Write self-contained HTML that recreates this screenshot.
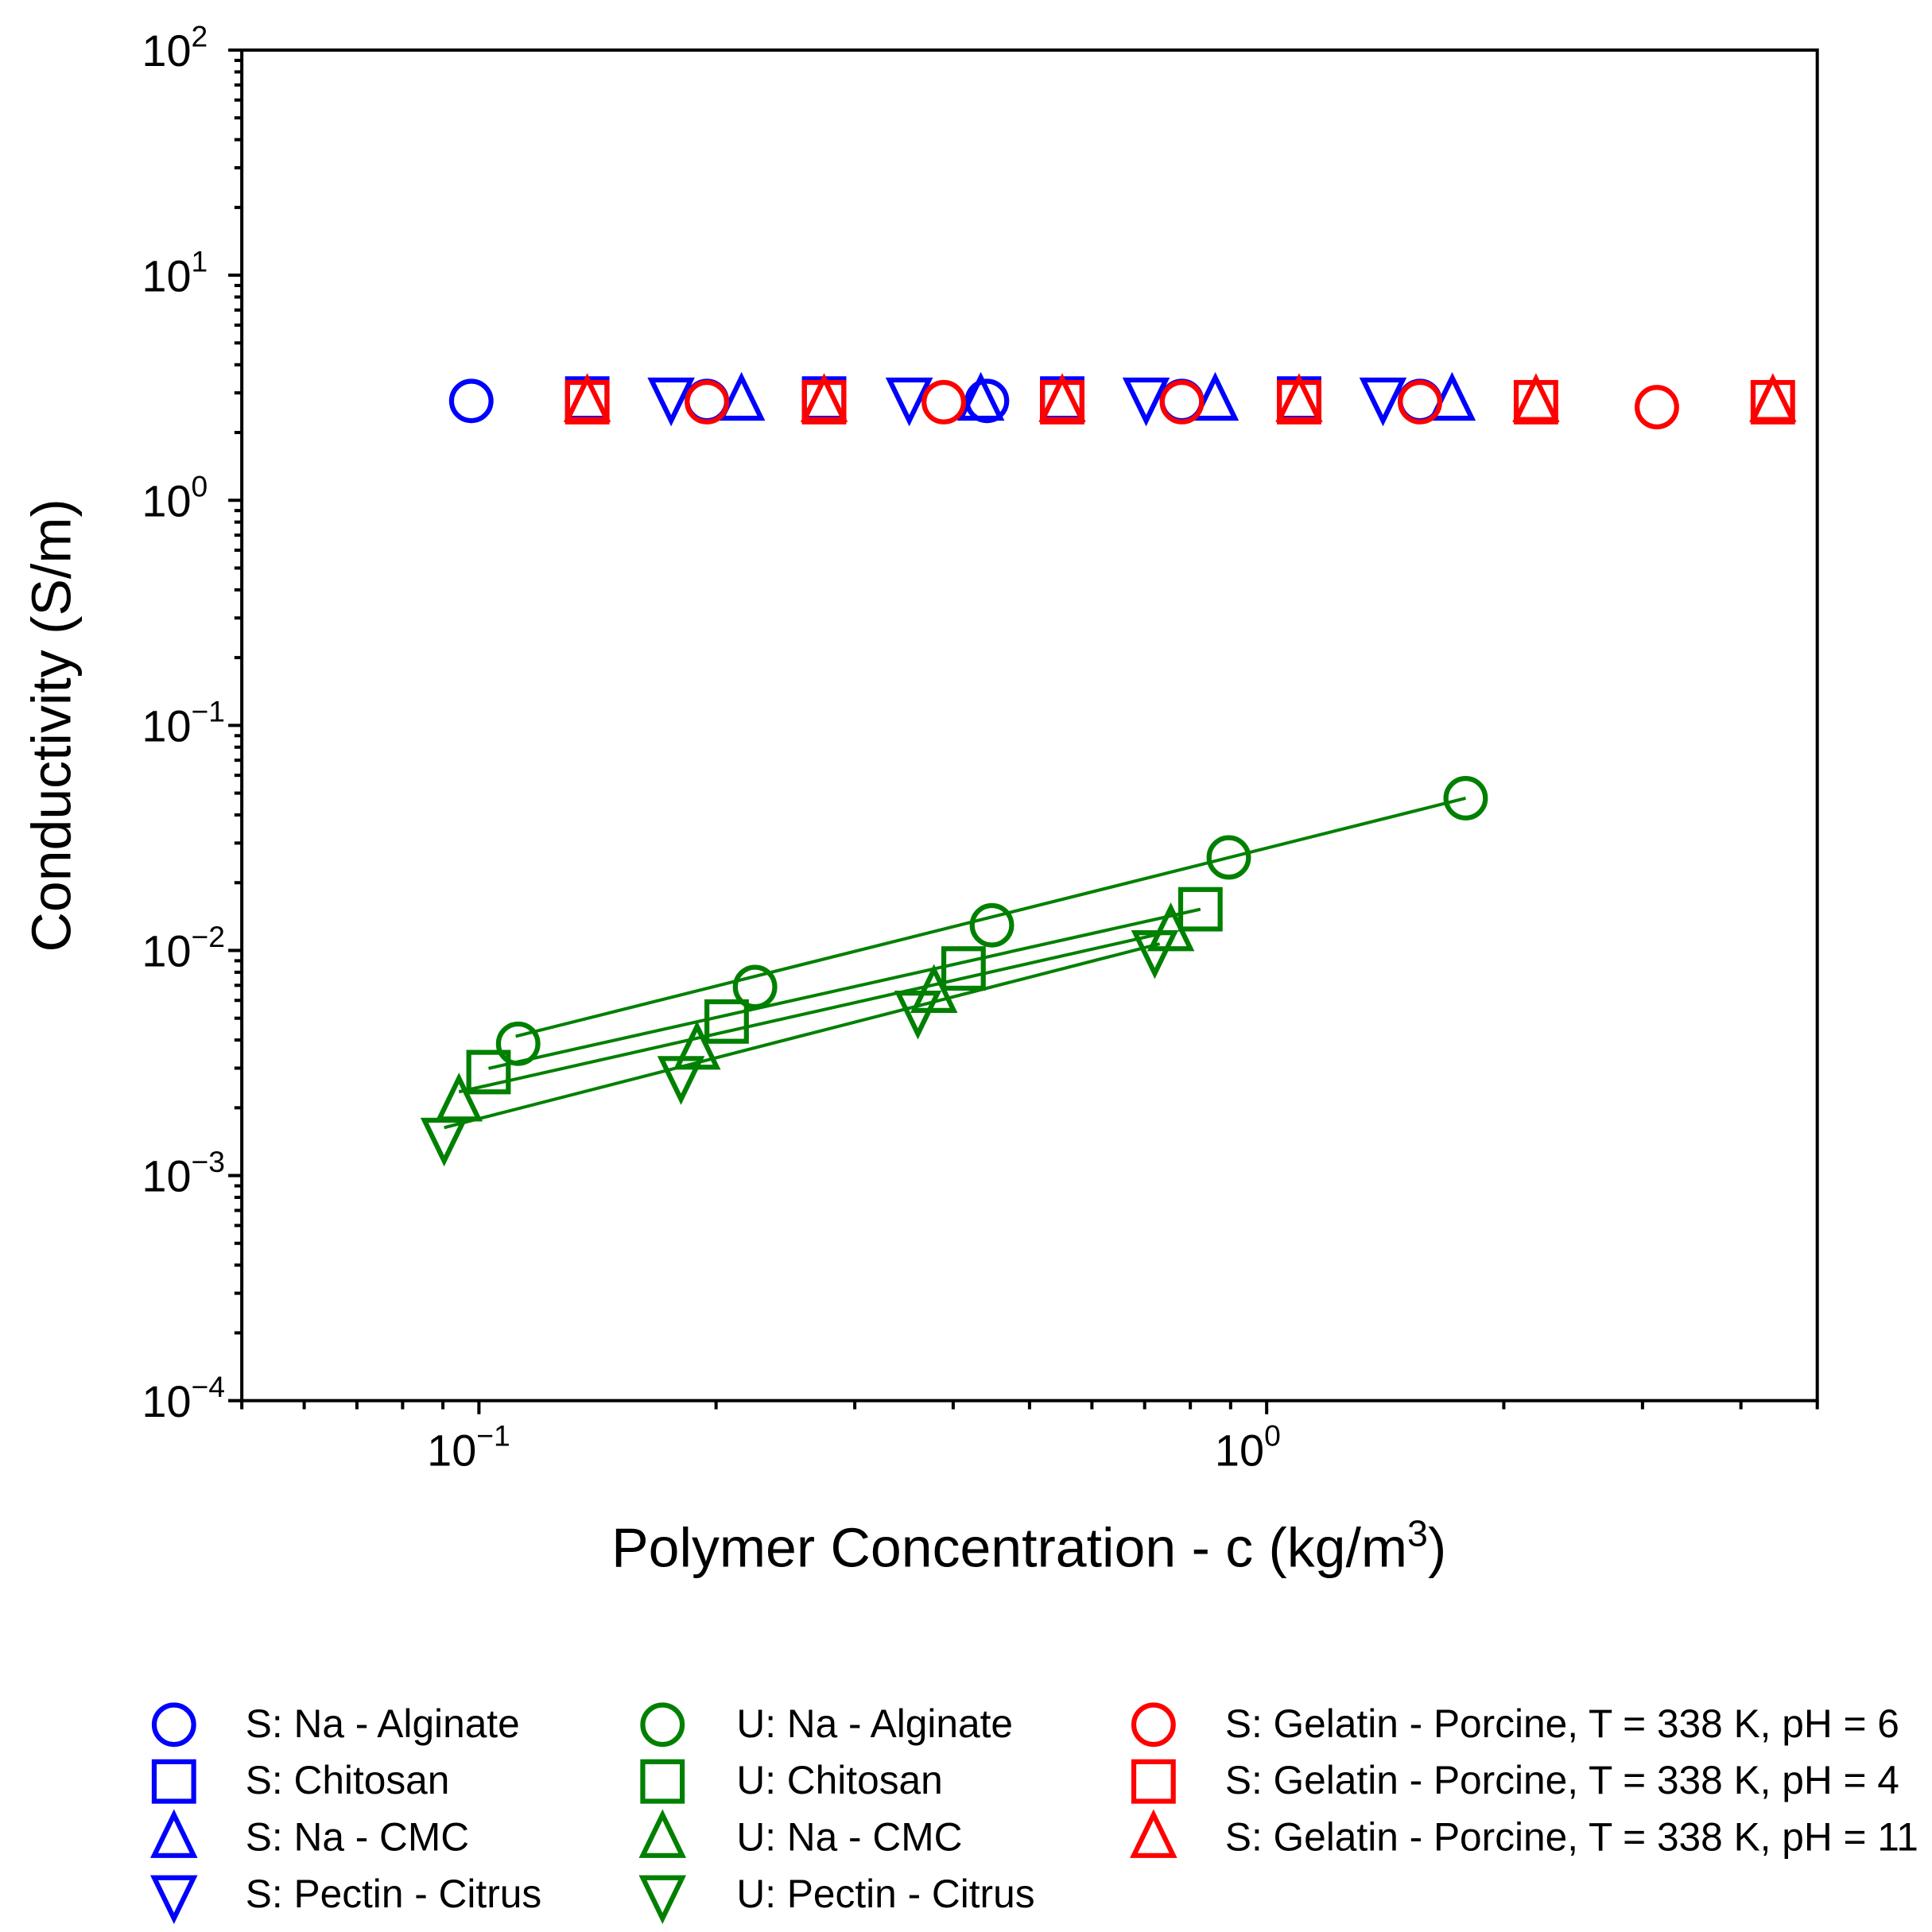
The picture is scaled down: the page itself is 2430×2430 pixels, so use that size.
<!DOCTYPE html>
<html><head><meta charset="utf-8"><style>
html,body{margin:0;padding:0;background:#fff;}
svg{display:block;}
text{font-family:"Liberation Sans",Arial,sans-serif;fill:#000;}
</style></head><body>
<svg id="s" width="2430" height="2430" viewBox="0 0 1566 1566" xmlns="http://www.w3.org/2000/svg">
<rect width="1566" height="1566" fill="#fff"/>
<g id="g"></g>
<text x="834" y="1270" font-size="45" text-anchor="middle">Polymer Concentration - c (kg/m<tspan dy="-17" font-size="30">3</tspan><tspan dy="17">)</tspan></text>
<text transform="translate(57,588) rotate(-90)" font-size="45" text-anchor="middle">Conductivity (S/m)</text>
</svg>
<script>
var NS="http://www.w3.org/2000/svg",g=document.getElementById("g");
function el(t,a,txt){var e=document.createElementNS(NS,t);for(var k in a)e.setAttribute(k,a[k]);if(txt)e.textContent=txt;g.appendChild(e);return e;}
var L=196,R=1473,T=40.6,B=1135.3;
function X(v){return L+(Math.log10(v)-Math.log10(0.05))*(R-L)/2;}
function Y(v){return T+(2-Math.log10(v))*(B-T)/6;}
var sw=2.6;
for(var d=-4;d<=2;d++){
  var y=Y(Math.pow(10,d));
  el("line",{x1:L-11,x2:L,y1:y,y2:y,stroke:"#000","stroke-width":sw});
  el("text",{x:155,y:y+13,"font-size":36,"text-anchor":"end"},"10");
  el("text",{x:155,y:y-3,"font-size":24,"text-anchor":"start"},(d<0?"\u2212":"")+Math.abs(d));
  if(d<2)for(var m=2;m<=9;m++){var yy=Y(m*Math.pow(10,d));el("line",{x1:L-6,x2:L,y1:yy,y2:yy,stroke:"#000","stroke-width":sw});}
}
var xs=[0.05,0.06,0.07,0.08,0.09,0.2,0.3,0.4,0.5,0.6,0.7,0.8,0.9,2,3,4,5];
xs.forEach(function(v){var x=X(v);el("line",{x1:x,x2:x,y1:B,y2:B+7,stroke:"#000","stroke-width":sw});});
[0.1,1].forEach(function(v,i){var x=X(v);el("line",{x1:x,x2:x,y1:B,y2:B+11,stroke:"#000","stroke-width":sw});
 el("text",{x:x-2,y:1188,"font-size":36,"text-anchor":"end"},"10");
 el("text",{x:x-2,y:1172,"font-size":24},i==0?"\u22121":"0");});
el("rect",{x:L,y:T,width:R-L,height:B-T,fill:"none",stroke:"#000","stroke-width":sw});
function mk(type,x,y,c){
  var a={fill:"none",stroke:c,"stroke-width":4,"stroke-linejoin":"miter"};
  if(type=="o"){a.cx=x;a.cy=y;a.r=16;el("circle",a);}
  else if(type=="s"){a.x=x-16;a.y=y-16;a.width=32;a.height=32;el("rect",a);}
  else if(type=="^"){a.points=(x)+","+(y-19)+" "+(x-16)+","+(y+14)+" "+(x+16)+","+(y+14);el("polygon",a);}
  else {a.points=(x)+","+(y+19)+" "+(x-16)+","+(y-14)+" "+(x+16)+","+(y-14);el("polygon",a);}
}
var BL="#0000ff",RD="#ff0000",GR="#008000";
[382,573,800,958,1151].forEach(function(x){mk("o",x,325,BL);});
[476,668,861,1053].forEach(function(x){mk("s",x,323,BL);});
[601,795,985,1177].forEach(function(x){mk("^",x,325,BL);});
[544,737,929,1121].forEach(function(x){mk("v",x,322,BL);});
[[573,326],[765,326],[958,326],[1151,326],[1343,330]].forEach(function(p){mk("o",p[0],p[1],RD);});
[476,668,861,1053,1245,1437].forEach(function(x){mk("s",x,326,RD);mk("^",x,326,RD);});
var gc=[[420,846],[612,800],[804,750],[996,695],[1188,647]];
var gs=[[396,869],[589,828],[781,785],[973,737]];
var gt=[[372,893],[565,851],[757,805],[949,755]];
var gv=[[360,922],[552,872],[744,819],[936,770]];
function ln(arr){var p=arr.map(function(q){return q.join(",");});el("polyline",{points:p.join(" "),fill:"none",stroke:GR,"stroke-width":2.6});}
ln([[418,840],[1188,647]]);
ln([[396,866],[973,737]]);
ln([[372,885],[949,755]]);
ln([[360,914],[940,765]]);
gc.forEach(function(p){mk("o",p[0],p[1],GR);});
gs.forEach(function(p){mk("s",p[0],p[1],GR);});
gt.forEach(function(p){mk("^",p[0],p[1],GR);});
gv.forEach(function(p){mk("v",p[0],p[1],GR);});
var rows=[1398,1444,1490,1536],types=["o","s","^","v"];
var cols=[[141,199,BL,["S: Na - Alginate","S: Chitosan","S: Na - CMC","S: Pectin - Citrus"]],
[537,597,GR,["U: Na - Alginate","U: Chitosan","U: Na - CMC","U: Pectin - Citrus"]],
[935,993,RD,["S: Gelatin - Porcine, T = 338 K, pH = 6","S: Gelatin - Porcine, T = 338 K, pH = 4","S: Gelatin - Porcine, T = 338 K, pH = 11",null]]];
cols.forEach(function(c){for(var i=0;i<4;i++){if(!c[3][i])continue;mk(types[i],c[0],rows[i],c[2]);el("text",{x:c[1],y:rows[i]+10,"font-size":32},c[3][i]);}});
</script>
</body></html>
